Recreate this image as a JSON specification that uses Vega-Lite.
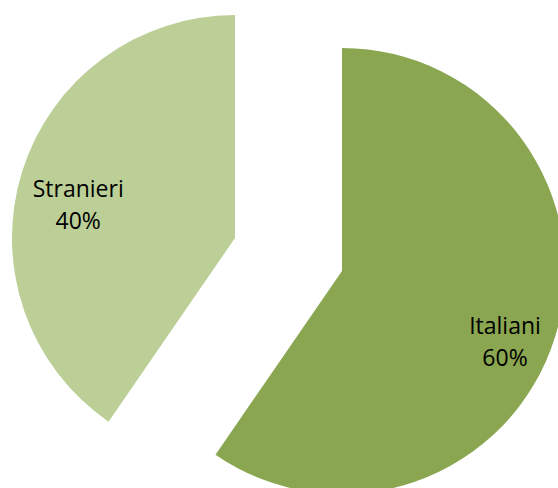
{
  "$schema": "https://vega.github.io/schema/vega-lite/v6.json",
  "width": 558,
  "height": 488,
  "autosize": {"type": "none"},
  "padding": 0,
  "background": "white",
  "view": {"stroke": null},
  "data": {"values": [
    {"cat": "Italiani", "value": 59.6, "order": 1},
    {"cat": "Stranieri", "value": 40.4, "order": 2}
  ]},
  "transform": [
    {"stack": "value", "groupby": [], "as": ["v0", "v1"], "sort": [{"field": "order", "order": "ascending"}]},
    {"calculate": "(datum.v0 + datum.v1) / 2", "as": "mid"},
    {"calculate": "[datum.cat, round(datum.value) + '%']", "as": "label"}
  ],
  "layer": [
    {
      "transform": [{"filter": "datum.cat == 'Italiani'"}],
      "mark": {"type": "arc", "outerRadius": 223, "xOffset": 63, "yOffset": 27},
      "encoding": {
        "theta": {"field": "v0", "type": "quantitative", "scale": {"domain": [0, 100]}},
        "theta2": {"field": "v1"},
        "color": {"field": "cat", "type": "nominal", "scale": {"domain": ["Italiani", "Stranieri"], "range": ["#8BA650", "#BBCF97"]}, "legend": null}
      }
    },
    {
      "transform": [{"filter": "datum.cat == 'Stranieri'"}],
      "mark": {"type": "arc", "outerRadius": 223, "xOffset": -44, "yOffset": -6},
      "encoding": {
        "theta": {"field": "v0", "type": "quantitative", "scale": {"domain": [0, 100]}},
        "theta2": {"field": "v1"},
        "color": {"field": "cat", "type": "nominal", "legend": null}
      }
    },
    {
      "transform": [{"filter": "datum.cat == 'Italiani'"}],
      "mark": {"type": "text", "radius": 177, "xOffset": 63, "yOffset": 27, "dx": -6, "dy": 3, "font": "Open Sans", "fontSize": 23, "lineHeight": 32, "color": "black", "align": "center", "baseline": "middle"},
      "encoding": {
        "theta": {"field": "mid", "type": "quantitative", "stack": null, "scale": {"domain": [0, 100]}},
        "text": {"field": "label"}
      }
    },
    {
      "transform": [{"filter": "datum.cat == 'Stranieri'"}],
      "mark": {"type": "text", "radius": 160, "xOffset": -44, "yOffset": -6, "dx": -4, "dy": 0, "font": "Open Sans", "fontSize": 23, "lineHeight": 32, "color": "black", "align": "center", "baseline": "middle"},
      "encoding": {
        "theta": {"field": "mid", "type": "quantitative", "stack": null, "scale": {"domain": [0, 100]}},
        "text": {"field": "label"}
      }
    }
  ]
}
